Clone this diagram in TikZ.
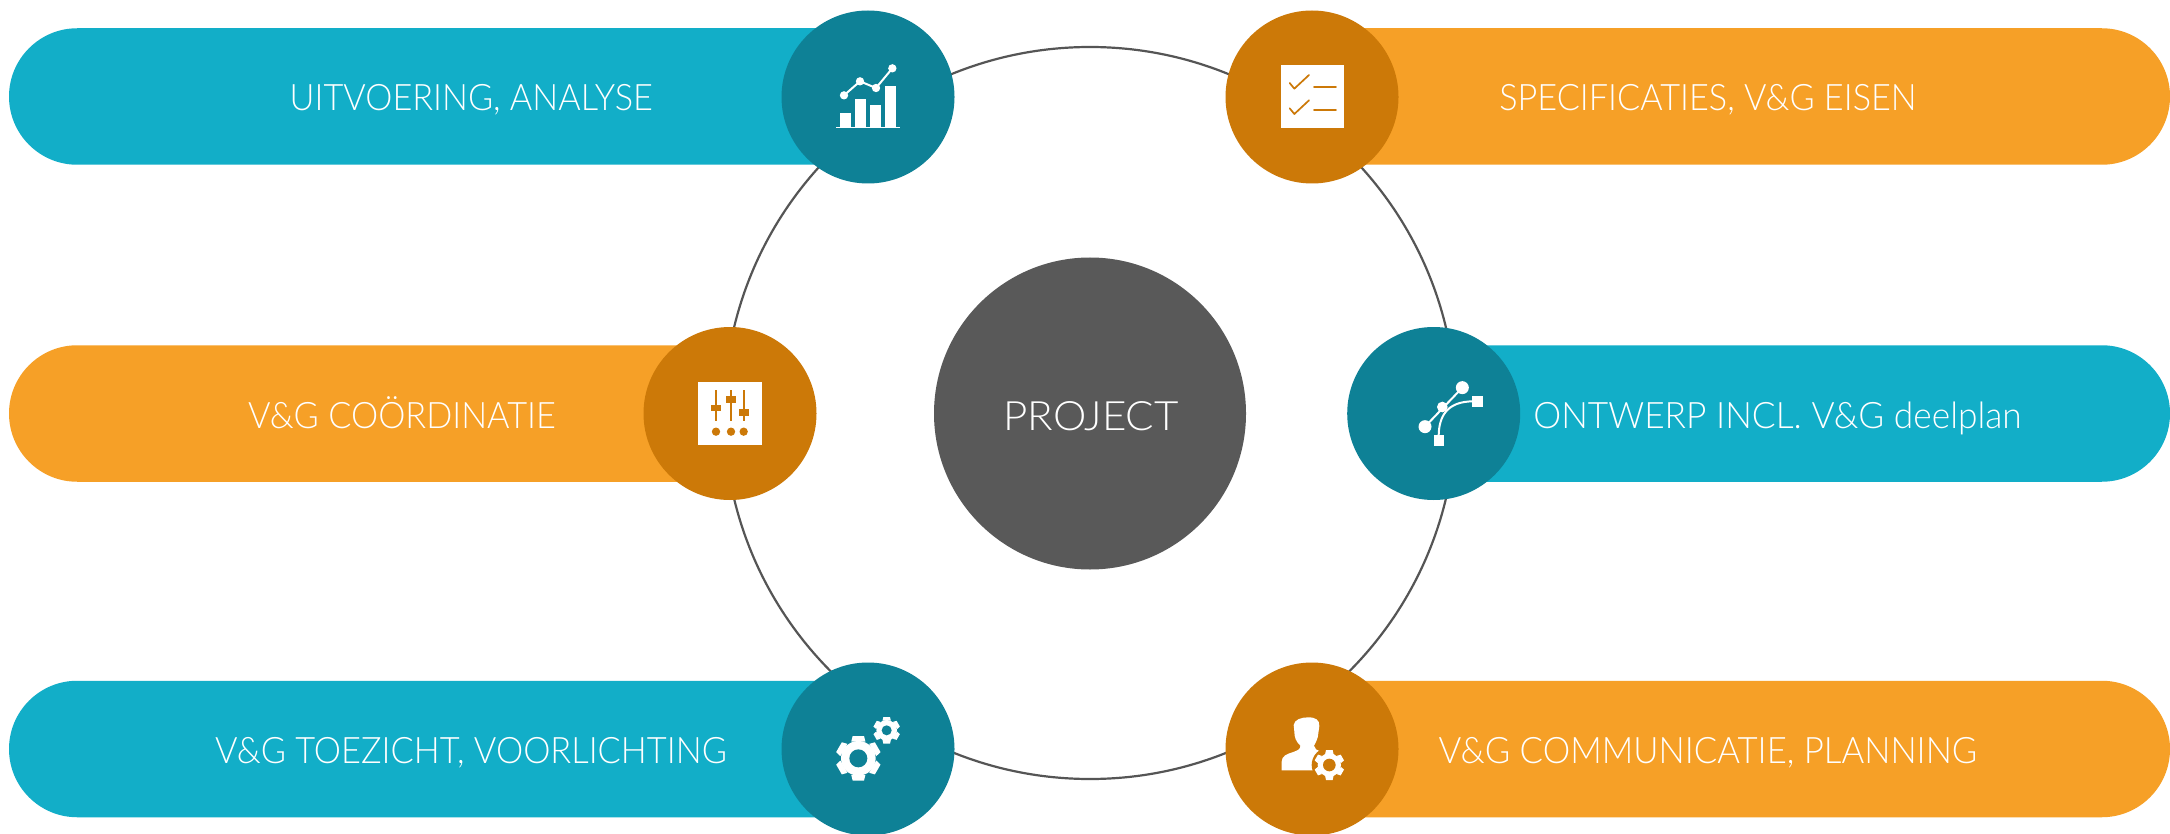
\documentclass[tikz,border=0pt]{standalone}
\usepackage{fontspec}
\usepackage{graphicx}
\setmainfont{Lato Light}
\usetikzlibrary{shapes.misc}
\definecolor{teal1}{HTML}{12AEC8}
\definecolor{teal2}{HTML}{0E8196}
\definecolor{orng1}{HTML}{F6A027}
\definecolor{orng2}{HTML}{CC7908}
\definecolor{ringc}{HTML}{555555}
\definecolor{corec}{HTML}{595959}
\newcommand{\gearicon}[7]{% cx cy outer root hole toothw holecolor
  \fill[white] (#1,#2) circle (#4);
  \foreach \a in {0,60,...,300}{
    \fill[white,shift={(#1,#2)},rotate=\a] (-#6,-#3) -- (#6,-#3) -- (#6*1.25,-#4+2) -- (-#6*1.25,-#4+2) -- cycle;
  }
  \fill[#7] (#1,#2) circle (#5);
}
\tikzset{
  x=1pt,y=-1pt,
  barbase/.style={rounded rectangle,minimum height=136.5pt,inner sep=0pt,outer sep=0pt,draw=none},
  leftbar/.style={barbase,anchor=west,rounded rectangle right arc=none},
  rightbar/.style={barbase,anchor=east,rounded rectangle left arc=none},
  disc/.style={circle,minimum size=173pt,inner sep=0pt,outer sep=0pt,draw=none},
  lbl/.style={text=white,inner sep=0pt,anchor=base,font=\fontsize{36.5}{42}\selectfont},
  hublbl/.style={text=white,inner sep=0pt,anchor=base,font=\fontsize{40.5}{46}\selectfont},
  iconline/.style={line cap=round,line join=round},
}
\begin{document}
\begin{tikzpicture}
\useasboundingbox (0,0) rectangle (2170,834);
\fill[white] (0,0) rectangle (2170,834);
% ring and hub
\node[circle,draw=ringc,line width=2.2pt,minimum size=732pt,inner sep=0pt] (ring) at (1090,413) {};
\node[circle,fill=corec,minimum size=312pt,inner sep=0pt] (hub) at (1090,413.5) {};
\node[hublbl] (hubtext) at (1091,430.5) {\scalebox{1.04}[1]{PROJECT}};
% bars
\node[leftbar,fill=teal1,minimum width=830pt] (b1) at (9,96.5) {};
\node[leftbar,fill=orng1,minimum width=700pt] (b3) at (9,413.5) {};
\node[leftbar,fill=teal1,minimum width=830pt] (b5) at (9,749) {};
\node[rightbar,fill=orng1,minimum width=830pt] (b2) at (2170,96.5) {};
\node[rightbar,fill=teal1,minimum width=720pt] (b4) at (2170,413.5) {};
\node[rightbar,fill=orng1,minimum width=830pt] (b6) at (2170,749) {};
% discs
\node[disc,fill=teal2] (c1) at (868,97) {};
\node[disc,fill=orng2] (c2) at (1312,97) {};
\node[disc,fill=orng2] (c3) at (730,413.5) {};
\node[disc,fill=teal2] (c4) at (1433.7,413.5) {};
\node[disc,fill=teal2] (c5) at (868,749) {};
\node[disc,fill=orng2] (c6) at (1312,749) {};
% labels
\node[lbl] (t1) at (471.3,111) {\scalebox{0.939}[1]{UITVOERING, ANALYSE}};
\node[lbl] (t2) at (1708,111) {\scalebox{0.938}[1]{SPECIFICATIES, V\&G EISEN}};
\node[lbl] (t3) at (402,428) {\scalebox{0.94}[1]{V\&G COÖRDINATIE}};
\node[lbl] (t4) at (1777.5,428) {\scalebox{0.967}[1]{ONTWERP INCL. V\&G deelplan}};
\node[lbl] (t5) at (471,763) {\scalebox{0.942}[1]{V\&G TOEZICHT, VOORLICHTING}};
\node[lbl] (t6) at (1708,763) {\scalebox{0.951}[1]{V\&G COMMUNICATIE, PLANNING}};
% icon: chart
\begin{scope}[shift={(770,0)},scale=1/3]
  \fill[white] (211,340) rectangle (243,381);
  \fill[white] (255,296) rectangle (288,381);
  \fill[white] (301,315) rectangle (332,381);
  \fill[white] (345,258) rectangle (378,381);
  \fill[white] (198,380) rectangle (390,385);
  \draw[white,line width=2pt,iconline] (222,286) -- (270,244) -- (318,264) -- (367,205);
  \foreach \p in {(222,286),(270,244),(318,264),(367,205)} \fill[white] \p circle (12.5);
\end{scope}
% icon: checklist
\begin{scope}[shift={(1215,0)},scale=1/3]
  \fill[white] (197,195) rectangle (387,385);
  \draw[orng2,line width=1.7pt,iconline] (224,249) -- (238,266) -- (282,225);
  \draw[orng2,line width=1.7pt,iconline] (224,325) -- (238,342) -- (282,301);
  \draw[orng2,line width=1.7pt,iconline] (297,262) -- (363,262);
  \draw[orng2,line width=1.7pt,iconline] (297,330) -- (363,330);
\end{scope}
% icon: sliders
\begin{scope}[shift={(630,320)},scale=1/3]
  \fill[white] (205,186) rectangle (395,376);
  \foreach \x in {258,303,341} {
    \fill[orng2] (\x-2.5,210) rectangle (\x+2.5,302);
    \fill[orng2] (\x,335) circle (12.5);
  }
  \fill[orng2] (243,255) rectangle (273,274);
  \fill[orng2] (288,229) rectangle (319,249);
  \fill[orng2] (326,268) rectangle (356,287);
\end{scope}
% icon: bezier
\begin{scope}[shift={(1340,320)},scale=1/3]
  \draw[white,line width=2pt] (367,203) -- (255,320);
  \draw[white,line width=2pt] (296,350) .. controls (296,290) and (320,244) .. (400,244);
  \fill[white] (367,203) circle (19.5);
  \fill[white] (255,320) circle (19.5);
  \fill[white] (307,261) circle (16);
  \fill[white] (397,229) rectangle (428,260);
  \fill[white] (281,345) rectangle (312,377);
\end{scope}
% icon: gears
\begin{scope}[shift={(770,650)},scale=1/3]
  \gearicon{265}{325}{67}{52}{27}{17}{teal2}
  \gearicon{350}{241}{40}{31}{15}{10}{teal2}
\end{scope}
% icon: person with gear
\begin{scope}[shift={(1215,650)},scale=1/3]
  \fill[white] (200,361) -- (200,335) .. controls (200,318) and (215,312) .. (235,306)
     .. controls (250,300) and (256,298) .. (256,287)
     .. controls (243,275) and (238,262) .. (238,245) -- (236,225)
     .. controls (238,208) and (260,202) .. (280,202)
     .. controls (302,202) and (314,210) .. (313,228) -- (310,250)
     .. controls (309,265) and (302,278) .. (297,287)
     .. controls (297,297) and (305,300) .. (320,305) -- (320,361) -- cycle;
  \fill[orng2] (343,345) circle (53);
  \gearicon{343}{345}{45}{35}{19}{10}{orng2}
\end{scope}
\end{tikzpicture}
\end{document}
